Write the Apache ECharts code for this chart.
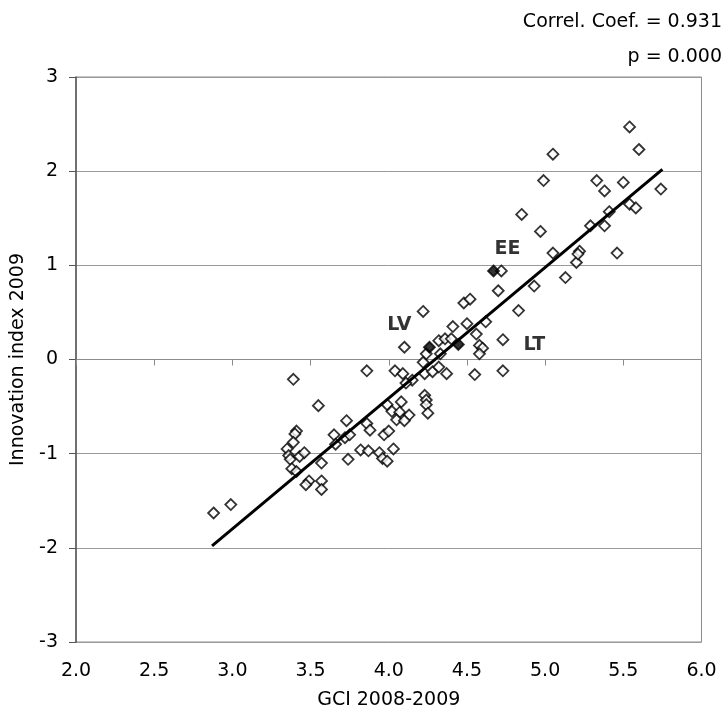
<!DOCTYPE html>
<html>
<head>
<meta charset="utf-8">
<script src="https://cdn.jsdelivr.net/npm/echarts@6/dist/echarts.min.js"></script>
<style>
  html, body { margin: 0; padding: 0; background: #fff; }
  #chart { width: 728px; height: 715px; }
</style>
</head>
<body>
<div id="chart"></div>
<script>
// GCI 2008-2009 score per country
var gciScore = [
  2.88, 2.99, 3.39, 3.55, 3.41, 3.40, 3.39, 3.35, 3.36, 3.37,
  3.43, 3.46, 3.38, 3.41, 3.57, 3.49, 3.47, 3.57, 3.57, 3.73,
  3.65, 3.66, 3.72, 3.75, 3.74, 3.86, 3.86, 3.88, 3.82, 3.87,
  3.94, 3.97, 4.00, 3.96, 3.99, 4.03, 3.99, 4.04, 4.09, 4.15,
  4.11, 4.08, 4.02, 4.07, 4.13, 4.05, 4.10, 4.23, 4.24, 4.24,
  4.25, 4.10, 4.22, 4.22, 4.23, 4.28, 4.32, 4.37, 4.24, 4.33,
  4.32, 4.36, 4.40, 4.41, 4.48, 4.52, 4.50, 4.56, 4.58, 4.60,
  4.58, 4.55, 4.73, 4.62, 4.73, 4.72, 4.70, 4.83, 4.85, 4.97,
  4.93, 4.99, 5.05, 5.05, 5.13, 5.20, 5.22, 5.21, 5.29, 5.33,
  5.38, 5.38, 5.41, 5.46, 5.50, 5.54, 5.60, 5.54, 5.58, 5.74
];
// Innovation index 2009, same order
var innovationIndex = [
  -1.63, -1.54, -0.21, -0.49, -0.76, -0.79, -0.88, -0.95, -1.02, -1.06,
  -1.03, -0.99, -1.16, -1.19, -1.10, -1.29, -1.33, -1.29, -1.38, -0.65,
  -0.80, -0.90, -0.83, -0.80, -1.06, -0.12, -0.68, -0.75, -0.96, -0.97,
  -0.99, -0.80, -0.76, -1.05, -1.08, -0.95, -0.48, -0.12, -0.15, -0.22,
  -0.25, -0.45, -0.55, -0.56, -0.59, -0.64, -0.65, -0.38, -0.43, -0.48,
  -0.57, 0.13, 0.51, -0.03, -0.15, -0.13, -0.08, -0.15, 0.06, 0.06,
  0.20, 0.22, 0.22, 0.35, 0.60, 0.64, 0.38, 0.27, 0.15, 0.12,
  0.06, -0.16, -0.12, 0.40, 0.21, 0.94, 0.73, 0.52, 1.54, 1.36,
  0.78, 1.90, 2.18, 1.13, 0.87, 1.03, 1.15, 1.12, 1.42, 1.90,
  1.79, 1.42, 1.57, 1.13, 1.88, 2.47, 2.23, 1.65, 1.61, 1.81
];

// Baltic states, drawn filled
var balticNames = ['EE', 'LV', 'LT'];
var balticGci = [4.67, 4.26, 4.445];
var balticInnov = [0.94, 0.13, 0.16];

// fitted line end points
var trendGci = [2.87, 5.75];
var trendInnov = [-1.98, 2.02];

var xTicks = [2.0, 2.5, 3.0, 3.5, 4.0, 4.5, 5.0, 5.5, 6.0];
var yTicks = [-3, -2, -1, 0, 1, 2, 3];

var correlText = 'Correl. Coef. = 0.931';
var pText = 'p = 0.000';

var FONT = 'DejaVu Sans, Verdana, sans-serif';

function zip(a, b) {
  var out = [];
  for (var i = 0; i < a.length; i++) out.push([a[i], b[i]]);
  return out;
}

var labelOffsets = [[14, -22], [-30, -22], [76, 1]];
var balticData = balticNames.map(function (n, i) {
  return {
    name: n,
    value: [balticGci[i], balticInnov[i]],
    label: { offset: labelOffsets[i] }
  };
});

var chart = echarts.init(document.getElementById('chart'));

var xStep = xTicks[1] - xTicks[0];
var yStep = yTicks[1] - yTicks[0];

chart.setOption({
  animation: false,
  backgroundColor: '#fff',
  textStyle: { fontFamily: FONT },
  grid: {
    left: 76, right: 26.5, top: 77, bottom: 69.5,
    show: true, borderColor: '#8c8c8c', borderWidth: 1
  },
  graphic: [
    {
      type: 'text', x: 722, y: 22,
      style: { text: correlText, font: '19px ' + FONT, fill: '#000', textAlign: 'right', textVerticalAlign: 'middle' }
    },
    {
      type: 'text', x: 722, y: 57,
      style: { text: pText, font: '19px ' + FONT, fill: '#000', textAlign: 'right', textVerticalAlign: 'middle' }
    }
  ],
  xAxis: [
    {
      type: 'value',
      min: xTicks[0], max: xTicks[xTicks.length - 1], interval: xStep,
      position: 'bottom',
      name: 'GCI 2008-2009',
      nameLocation: 'middle',
      nameGap: 49,
      nameTextStyle: { fontSize: 19, color: '#000', fontFamily: FONT },
      axisLine: { show: false, onZero: false },
      axisTick: { show: false },
      axisLabel: {
        margin: 20, fontSize: 19, color: '#000', fontFamily: FONT,
        formatter: function (v) { return v.toFixed(1); }
      },
      splitLine: { show: false }
    },
    {
      type: 'value',
      min: xTicks[0], max: xTicks[xTicks.length - 1], interval: xStep,
      position: 'bottom',
      axisLine: { show: true, onZero: true, lineStyle: { color: '#8c8c8c', width: 1 } },
      axisTick: { show: true, length: 6, lineStyle: { color: '#8c8c8c' } },
      axisLabel: { show: false },
      splitLine: { show: false }
    }
  ],
  yAxis: {
    type: 'value',
    min: yTicks[0], max: yTicks[yTicks.length - 1], interval: yStep,
    name: 'Innovation index 2009',
    nameLocation: 'middle',
    nameGap: 48,
    nameTextStyle: { fontSize: 19, color: '#000', fontFamily: FONT },
    axisLine: { show: true, onZero: false, lineStyle: { color: '#555', width: 1.5 } },
    axisTick: { show: true, length: 7, lineStyle: { color: '#555' } },
    axisLabel: { margin: 18, fontSize: 19, color: '#000', fontFamily: FONT },
    splitLine: { show: true, lineStyle: { color: '#9a9a9a', width: 1 } }
  },
  series: [
    {
      type: 'scatter',
      data: zip(gciScore, innovationIndex),
      symbol: 'diamond',
      symbolSize: 11,
      itemStyle: { color: '#fff', borderColor: '#000', borderWidth: 1.8 },
      z: 2
    },
    {
      type: 'scatter',
      data: balticData,
      symbol: 'diamond',
      symbolSize: 11,
      itemStyle: { color: '#000', borderColor: '#000', borderWidth: 1.8 },
      label: {
        show: true,
        position: 'inside',
        formatter: '{b}',
        fontSize: 19,
        fontWeight: 'bold',
        color: '#000',
        fontFamily: FONT
      },
      z: 3
    },
    {
      type: 'line',
      data: zip(trendGci, trendInnov),
      symbol: 'none',
      lineStyle: { color: '#000', width: 3 },
      z: 4,
      silent: true
    }
  ]
});
</script>
</body>
</html>
